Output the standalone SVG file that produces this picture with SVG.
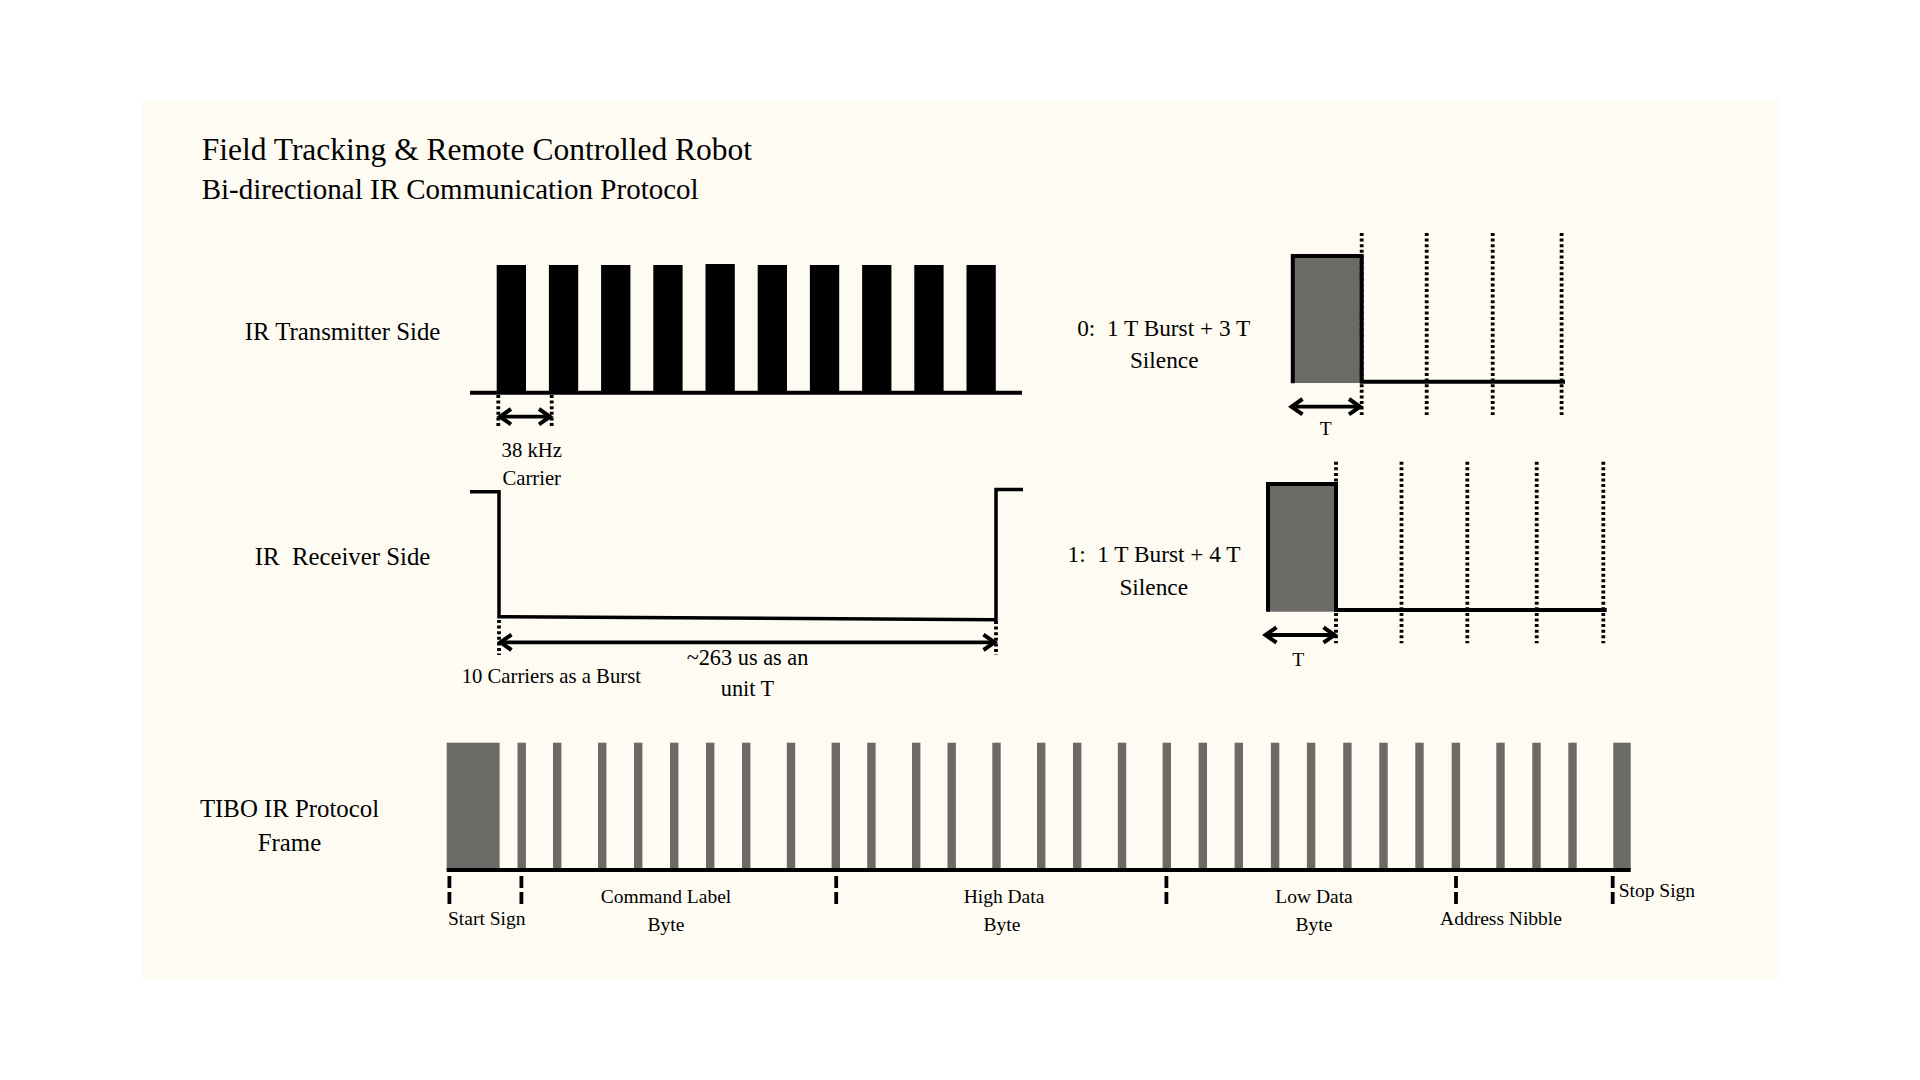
<svg xmlns="http://www.w3.org/2000/svg" width="1920" height="1080" viewBox="0 0 1920 1080">
<style>
text{font-family:"Liberation Serif","Times New Roman",serif;fill:#000}
.t1{font-size:31.5px}
.t2{font-size:29px}
.lab{font-size:24.8px;text-anchor:middle}
.sm{font-size:20.7px}
.fr{font-size:19.5px}
.rt{font-size:23.3px;text-anchor:middle}
.mid{text-anchor:middle}
.ln{fill:none;stroke:#000;stroke-width:3.5}
.dot{fill:none;stroke:#000;stroke-width:3.8;stroke-dasharray:3 2.6}
.dash{fill:none;stroke:#000;stroke-width:3.8;stroke-dasharray:12 4}
.arr{fill:none;stroke:#000;stroke-width:3.8;marker-start:url(#ah);marker-end:url(#ah)}
.gb{fill:#6b6a66}
.bk{fill:#000}
</style>
<defs>
<marker id="ah" markerUnits="userSpaceOnUse" markerWidth="20" markerHeight="20" refX="14" refY="10" orient="auto-start-reverse" overflow="visible">
<path d="M3,2.3 L14,10 L3,17.7" fill="none" stroke="#000" stroke-width="4"/>
</marker>
</defs>
<rect id="background" x="142" y="99" width="1637" height="880" fill="#fdfbf2"/>
<g id="title">
<text class="t1" x="201.7" y="159.5">Field Tracking &amp; Remote Controlled Robot</text>
<text class="t2" x="201.7" y="199">Bi-directional IR Communication Protocol</text>
</g>
<g id="transmitter">
<text class="lab" x="342.5" y="340">IR Transmitter Side</text>
<g class="bk">
<rect x="496.7" y="265" width="29.3" height="128"/>
<rect x="548.9" y="265" width="29.3" height="128"/>
<rect x="601.1" y="265" width="29.3" height="128"/>
<rect x="653.3" y="265" width="29.3" height="128"/>
<rect x="705.5" y="264" width="29.3" height="129"/>
<rect x="757.7" y="265" width="29.3" height="128"/>
<rect x="809.9" y="265" width="29.3" height="128"/>
<rect x="862.1" y="265" width="29.3" height="128"/>
<rect x="914.3" y="265" width="29.3" height="128"/>
<rect x="966.5" y="265" width="29.3" height="128"/>
</g>
<line x1="470" y1="392.7" x2="1022" y2="392.7" stroke="#000" stroke-width="4"/>
<text class="sm mid" x="531.7" y="456.7">38 kHz</text>
<text class="sm mid" x="531.7" y="485">Carrier</text>
</g>
<g id="receiver">
<text class="lab" x="342.5" y="565" xml:space="preserve">IR  Receiver Side</text>
<path class="ln" d="M470,491.7 H499 V616.7 L996,619.7 V489.5 H1023"/>
<text class="sm" x="461.7" y="682.7">10 Carriers as a Burst</text>
<text class="mid" x="747.5" y="665" style="font-size:22.3px">~263 us as an</text>
<text class="mid" x="747.5" y="696" style="font-size:22.3px">unit T</text>
</g>
<g id="bit-zero">
<text class="rt" x="1163.7" y="336" xml:space="preserve">0:  1 T Burst + 3 T</text>
<text class="rt" x="1164.2" y="367.7">Silence</text>
<rect class="gb" x="1292.8" y="256" width="68.9" height="127"/>
<path class="ln" d="M1292.8,383.3 V256 H1361.7 V381.7 H1565" style="stroke-width:4"/>
<line class="dot" x1="1361.7" y1="233" x2="1361.7" y2="415"/>
<line class="dot" x1="1426.7" y1="233" x2="1426.7" y2="415"/>
<line class="dot" x1="1492.7" y1="233" x2="1492.7" y2="415"/>
<line class="dot" x1="1561.6" y1="233" x2="1561.6" y2="415"/>
<text class="fr mid" x="1325.7" y="435">T</text>
</g>
<g id="bit-one">
<text class="rt" x="1154" y="562" xml:space="preserve">1:  1 T Burst + 4 T</text>
<text class="rt" x="1153.7" y="594.5">Silence</text>
<rect class="gb" x="1268" y="484" width="68" height="127.7"/>
<path class="ln" d="M1268,611.7 V484 H1336 V610 H1606.7" style="stroke-width:4"/>
<line class="dot" x1="1336" y1="461.7" x2="1336" y2="643.3"/>
<line class="dot" x1="1401.5" y1="461.7" x2="1401.5" y2="643.3"/>
<line class="dot" x1="1467.3" y1="461.7" x2="1467.3" y2="643.3"/>
<line class="dot" x1="1536.7" y1="461.7" x2="1536.7" y2="643.3"/>
<line class="dot" x1="1603.3" y1="461.7" x2="1603.3" y2="643.3"/>
<text class="fr mid" x="1298.3" y="666">T</text>
</g>
<g id="frame">
<text class="lab" x="289.5" y="816.7">TIBO IR Protocol</text>
<text class="lab" x="289.5" y="850.7">Frame</text>
<g class="gb">
<rect x="446.7" y="742.7" width="52.9" height="127.3"/>
<rect x="517.5" y="742.7" width="8.4" height="127.3"/>
<rect x="553" y="742.7" width="8.4" height="127.3"/>
<rect x="598" y="742.7" width="8.4" height="127.3"/>
<rect x="634" y="742.7" width="8.4" height="127.3"/>
<rect x="670" y="742.7" width="8.4" height="127.3"/>
<rect x="706" y="742.7" width="8.4" height="127.3"/>
<rect x="742" y="742.7" width="8.4" height="127.3"/>
<rect x="786.8" y="742.7" width="8.4" height="127.3"/>
<rect x="831.6" y="742.7" width="8.4" height="127.3"/>
<rect x="867.2" y="742.7" width="8.4" height="127.3"/>
<rect x="912" y="742.7" width="8.4" height="127.3"/>
<rect x="947.5" y="742.7" width="8.4" height="127.3"/>
<rect x="992.3" y="742.7" width="8.4" height="127.3"/>
<rect x="1037" y="742.7" width="8.4" height="127.3"/>
<rect x="1073" y="742.7" width="8.4" height="127.3"/>
<rect x="1117.8" y="742.7" width="8.4" height="127.3"/>
<rect x="1162.6" y="742.7" width="8.4" height="127.3"/>
<rect x="1198.6" y="742.7" width="8.4" height="127.3"/>
<rect x="1234.6" y="742.7" width="8.4" height="127.3"/>
<rect x="1270.9" y="742.7" width="8.4" height="127.3"/>
<rect x="1306.9" y="742.7" width="8.4" height="127.3"/>
<rect x="1343.2" y="742.7" width="8.4" height="127.3"/>
<rect x="1379.3" y="742.7" width="8.4" height="127.3"/>
<rect x="1415.3" y="742.7" width="8.4" height="127.3"/>
<rect x="1451.7" y="742.7" width="8.4" height="127.3"/>
<rect x="1496.3" y="742.7" width="8.4" height="127.3"/>
<rect x="1532.3" y="742.7" width="8.4" height="127.3"/>
<rect x="1568.3" y="742.7" width="8.4" height="127.3"/>
<rect x="1613.3" y="742.7" width="17.4" height="127.3"/>
</g>
<line x1="446.7" y1="870" x2="1630.7" y2="870" stroke="#000" stroke-width="4"/>
<text class="fr" x="448" y="925">Start Sign</text>
<text class="fr mid" x="666" y="903.3">Command Label</text>
<text class="fr mid" x="666" y="930.7">Byte</text>
<text class="fr mid" x="1004" y="903.3">High Data</text>
<text class="fr mid" x="1002" y="930.7">Byte</text>
<text class="fr mid" x="1314" y="903.3">Low Data</text>
<text class="fr mid" x="1314" y="930.7">Byte</text>
<text class="fr mid" x="1501" y="925">Address Nibble</text>
<text class="fr" x="1618.7" y="897.3">Stop Sign</text>
</g>
<g id="connectors">
<line class="dot" x1="498.3" y1="395" x2="498.3" y2="428.5"/>
<line class="dot" x1="551.7" y1="395" x2="551.7" y2="428.5"/>
<line class="arr" x1="500" y1="416.7" x2="550" y2="416.7"/>
<line class="dot" x1="499" y1="620" x2="499" y2="655"/>
<line class="dot" x1="996" y1="621" x2="996" y2="655"/>
<line class="arr" x1="500.5" y1="642.3" x2="994.5" y2="642.3"/>
<line class="arr" x1="1291.5" y1="406.7" x2="1360" y2="406.7"/>
<line class="arr" x1="1265.5" y1="635" x2="1334.5" y2="635"/>
<line class="dash" x1="449.4" y1="876" x2="449.4" y2="905"/>
<line class="dash" x1="521.4" y1="876" x2="521.4" y2="905"/>
<line class="dash" x1="836.2" y1="876" x2="836.2" y2="905"/>
<line class="dash" x1="1166.4" y1="876" x2="1166.4" y2="905"/>
<line class="dash" x1="1456" y1="876" x2="1456" y2="905"/>
<line class="dash" x1="1612.7" y1="876" x2="1612.7" y2="905"/>
</g>
</svg>
